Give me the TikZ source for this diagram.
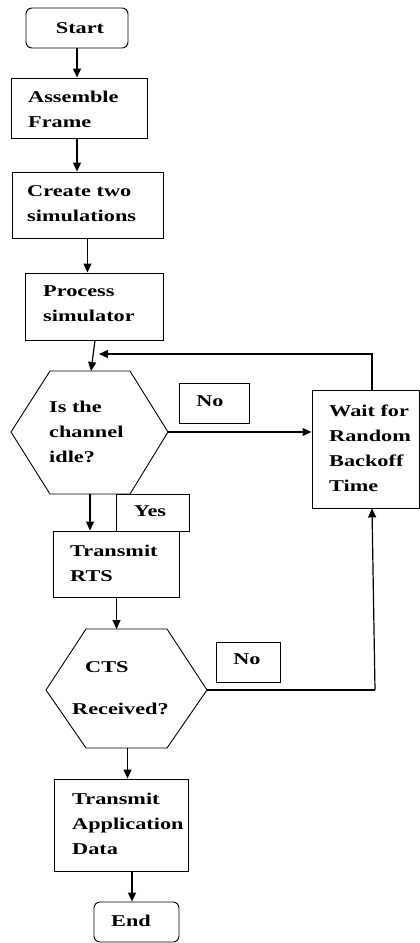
\documentclass[tikz,border=0pt]{standalone}
\usepackage{fontspec}
\newfontfamily\lbl{Liberation Serif}[FakeStretch=1.35]
\usetikzlibrary{arrows.meta}
\begin{document}
\begin{tikzpicture}[x=1pt,y=-1pt,
  box/.style={draw, line width=0.9pt, inner sep=0pt},
  rbox/.style={box, rounded corners=6pt},
  txt/.style={inner sep=0pt, align=left, font=\lbl\bfseries\fontsize{16.5}{25}\selectfont},
  arr/.style={line width=1.2pt, -{Triangle[length=9pt,width=8pt]}},
  ln/.style={line width=1.2pt},
  hexline/.style={draw, line width=0.9pt, line join=miter}]
\useasboundingbox (0,0) rectangle (420,943);

% boxes
\node[rbox, minimum width=102pt, minimum height=40pt] (start) at (77,28) {};
\node[box, minimum width=136pt, minimum height=60pt] (assemble) at (79,108) {};
\node[box, minimum width=151pt, minimum height=66pt] (create) at (87.5,205) {};
\node[box, minimum width=138pt, minimum height=67pt] (process) at (94,306.5) {};
\node[box, minimum width=70pt, minimum height=40pt] (no1) at (214,403) {};
\node[box, minimum width=107pt, minimum height=118pt] (wait) at (365.5,449) {};
\node[box, minimum width=73pt, minimum height=37pt] (yes) at (152.5,512.5) {};
\node[box, minimum width=126pt, minimum height=66pt] (rts) at (116,564) {};
\node[box, minimum width=64pt, minimum height=40pt] (no2) at (248,662) {};
\node[box, minimum width=134pt, minimum height=92pt] (tad) at (121,825) {};
\node[rbox, minimum width=85pt, minimum height=40pt] (end) at (136.5,922) {};

% hexagons
\coordinate (h1a) at (50,371); \coordinate (h1b) at (130,371);
\coordinate (h1c) at (168,432); \coordinate (h1d) at (130,494);
\coordinate (h1e) at (50,494); \coordinate (h1f) at (11,432);
\draw[hexline] (h1a) -- (h1b) -- (h1c) -- (h1d) -- (h1e) -- (h1f) -- cycle;
\coordinate (h2a) at (86,629); \coordinate (h2b) at (167,629);
\coordinate (h2c) at (207,690); \coordinate (h2d) at (167,748);
\coordinate (h2e) at (86,748); \coordinate (h2f) at (46,690);
\draw[hexline] (h2a) -- (h2b) -- (h2c) -- (h2d) -- (h2e) -- (h2f) -- cycle;

% texts
\node[txt] (tStart) at (80,28.5) {Start};
\node[txt, anchor=west] (tAssemble) at (28,109) {Assemble\\Frame};
\node[txt, anchor=west] (tCreate) at (27,204) {Create two\\simulations};
\node[txt, anchor=west] (tProcess) at (43,304) {Process\\simulator};
\node[txt, anchor=west] (tIdle) at (49,432) {Is the\\channel\\idle?};
\node[txt] (tNo1) at (210,401.5) {No};
\node[txt, anchor=west] (tWait) at (329,448) {Wait for\\Random\\Backoff\\Time};
\node[txt] (tYes) at (150,511.5) {Yes};
\node[txt, anchor=west] (tRts) at (70,563) {Transmit\\RTS};
\node[txt, anchor=west] (tCts) at (72,688.5) {\hspace*{13pt}CTS\\[17pt]Received?};
\node[txt] (tNo2) at (247,659.5) {No};
\node[txt, anchor=west] (tTad) at (72,823.5) {Transmit\\Application\\Data};
\node[txt] (tEnd) at (131,921) {End};

% connection points
\coordinate (h1N) at (91,371);
\coordinate (h1E) at (168,432);
\coordinate (h1S) at (90,494);
\coordinate (h2N) at (116.5,629);
\coordinate (h2E) at (207,690);
\coordinate (h2S) at (127.5,748);
\coordinate (h2turn) at (375,690);
\coordinate (fbend) at (99,354);

% connectors
\draw[arr] (start.south) -- (start.south |- assemble.north);
\draw[arr] ([xshift=-2pt]assemble.south) -- ([xshift=-2pt]assemble.south |- create.north);
\draw[arr] (create.south) -- (create.south |- process.north);
\draw[arr] ([xshift=1pt]process.south) -- (h1N);
\draw[arr] (h1E) -- (h1E -| wait.west);
\draw[arr] ([xshift=6.5pt]wait.north) |- (fbend);
\draw[arr] (h1S) -- (h1S |- rts.north);
\draw[arr] ([xshift=0.5pt]rts.south) -- (h2N);
\draw[ln] (h2E) -- (h2turn);
\draw[arr] (h2turn) -- ([xshift=6.5pt]wait.south);
\draw[arr] (h2S) -- (h2S |- tad.north);
\draw[arr] ([xshift=11pt]tad.south) -- ([xshift=11pt]tad.south |- end.north);
\end{tikzpicture}
\end{document}
